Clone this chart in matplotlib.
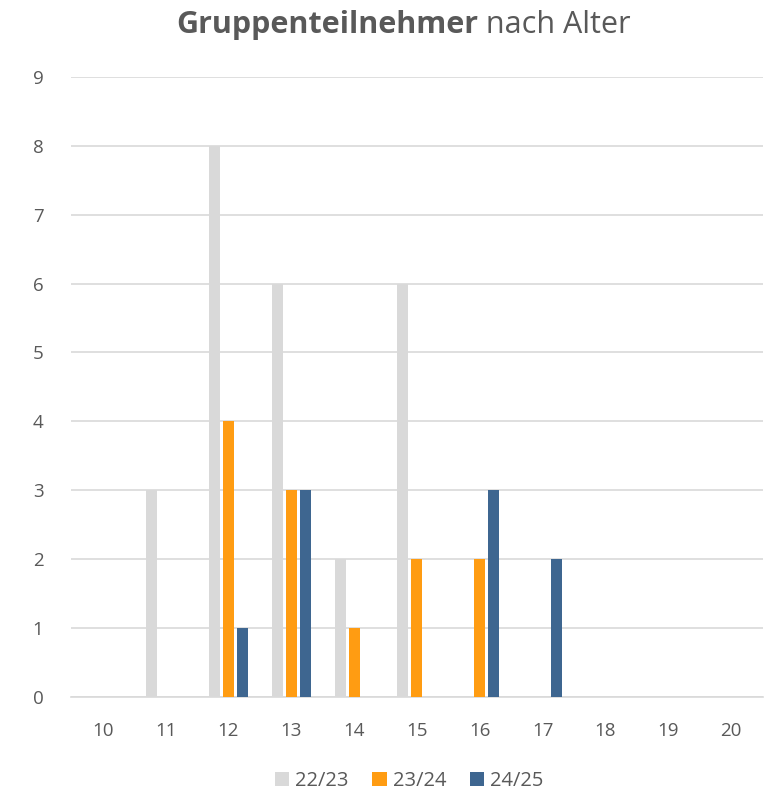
import matplotlib
matplotlib.use("Agg")
import matplotlib.pyplot as plt
import numpy as np

plt.rcParams['font.family'] = ['Open Sans', 'DejaVu Sans']

ages = ['10', '11', '12', '13', '14', '15', '16', '17', '18', '19', '20']
s2223 = [0, 3, 8, 6, 2, 6, 0, 0, 0, 0, 0]
s2324 = [0, 0, 4, 3, 1, 2, 2, 0, 0, 0, 0]
s2425 = [0, 0, 1, 3, 0, 0, 3, 2, 0, 0, 0]
series = [('22/23', s2223, '#D9D9D9'),
          ('23/24', s2324, '#FF9C12'),
          ('24/25', s2425, '#3E6690')]

txt = '#595959'
fig = plt.figure(figsize=(7.75, 7.92), dpi=100)
ax = fig.add_axes([0.092, 0.12, 0.892, 0.783])

x = np.arange(len(ages))
step = 0.222
w = 0.175
for i, (lab, vals, col) in enumerate(series):
    ax.bar(x + (i - 1) * step, vals, width=w, color=col, label=lab, zorder=3)

ax.set_xlim(-0.5, len(ages) - 0.5)
ax.set_ylim(0, 9)
ax.set_yticks(range(10))
ax.set_xticks(x)
ax.set_xticklabels(ages)
ax.yaxis.grid(True, color='#D9D9D9', lw=1.2, zorder=0)
for sp in ['top', 'right', 'left']:
    ax.spines[sp].set_visible(False)
ax.spines['bottom'].set_color('#D9D9D9')
ax.spines['bottom'].set_linewidth(1.2)
ax.tick_params(length=0, colors=txt, labelsize=13.5)
ax.tick_params(axis='y', pad=20)
ax.tick_params(axis='x', pad=18)

# title: bold part + normal part, centred together
t1 = fig.text(0.5, 0.968, 'Gruppenteilnehmer', ha='left', va='center',
              color=txt, fontsize=22, fontweight='bold')
t2 = fig.text(0.5, 0.968, ' nach Alter', ha='left', va='center',
              color=txt, fontsize=22)
r = fig.canvas.get_renderer()
w1 = t1.get_window_extent(r).width / fig.bbox.width
w2 = t2.get_window_extent(r).width / fig.bbox.width
x0 = 0.52 - (w1 + w2) / 2
t1.set_x(x0)
t2.set_x(x0 + w1)

leg = fig.legend(loc='center', bbox_to_anchor=(0.528, 0.014), ncol=3, frameon=False,
                 fontsize=14.5, handlelength=0.7, handleheight=0.7,
                 handletextpad=0.3, columnspacing=1.2)
for t in leg.get_texts():
    t.set_color(txt)

fig.savefig('out.png', dpi=100)
